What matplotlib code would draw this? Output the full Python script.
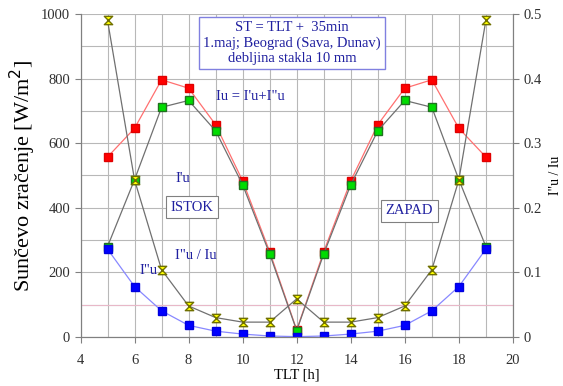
import matplotlib.pyplot as plt
from matplotlib.path import Path
from matplotlib.ticker import MultipleLocator, FuncFormatter

plt.rcParams['font.family'] = ['Liberation Serif', 'DejaVu Serif']

tlt = [5, 6, 7, 8, 9, 10, 11, 12, 13, 14, 15, 16, 17, 18, 19]
iu = [557, 646, 796, 770, 657, 483, 264, 22, 264, 483, 657, 770, 796, 646, 557]
iu1 = [280, 487, 711, 732, 638, 471, 257, 20, 257, 471, 638, 732, 711, 487, 280]
iu2 = [272, 156, 81, 36, 18, 9, 3, 1, 3, 9, 18, 36, 81, 156, 272]
ratio = [0.49, 0.243, 0.104, 0.048, 0.030, 0.023, 0.023, 0.059, 0.023, 0.023,
         0.030, 0.048, 0.104, 0.243, 0.49]

# hourglass marker
hg = Path([(-1, 1), (1, 1), (-1, -1), (1, -1), (-1, 1)],
          [Path.MOVETO, Path.LINETO, Path.LINETO, Path.LINETO, Path.CLOSEPOLY])

fig = plt.figure(figsize=(5.63, 3.86), dpi=100)
ax1 = fig.add_axes([0.143, 0.127, 0.768, 0.837])
ax2 = ax1.twinx()

gray = '#808080'
navy = '#2020a0'

ax1.set_xlim(4, 20)
ax1.set_ylim(0, 1000)
ax2.set_ylim(0, 0.5)

ax1.xaxis.set_major_locator(MultipleLocator(2))
ax1.xaxis.set_minor_locator(MultipleLocator(1))
ax1.yaxis.set_major_locator(MultipleLocator(200))
ax1.yaxis.set_minor_locator(MultipleLocator(100))
ax2.yaxis.set_major_locator(MultipleLocator(0.1))
ax2.yaxis.set_major_formatter(FuncFormatter(lambda v, p: '0' if abs(v) < 1e-9 else '%.1f' % v))

ax1.grid(True, which='both', color='#b8b8b8', lw=0.8)
ax1.axhline(100, color='#e8b8c8', lw=0.8)
ax1.set_axisbelow(True)

for ax in (ax1, ax2):
    for s in ax.spines.values():
        s.set_color(gray)
    ax.spines['top'].set_visible(False)
    ax.tick_params(colors=gray, labelcolor='#303030', labelsize=10.5, length=4, direction='out')
    ax.tick_params(which='minor', length=0)
ax1.tick_params(axis='x', pad=8)

ax1.plot(tlt, iu, color='#ff7070', lw=0.9, marker='s', ms=6,
         mfc='#ff0000', mec='#e00000', zorder=3)
ax1.plot(tlt, iu1, color='#707070', lw=0.9, marker='s', ms=6,
         mfc='#00dd00', mec='#207020', zorder=4)
ax1.plot(tlt, iu2, color='#8888ff', lw=0.9, marker='s', ms=6,
         mfc='#0000ff', mec='#0000dd', zorder=4)
ax2.plot(tlt, ratio, color='#707070', lw=0.9, marker=hg, ms=6,
         mfc='#ffff00', mec='#707000', zorder=5)

ax1.set_ylabel('Sunčevo zračenje [W/m$^2$]', fontsize=16, labelpad=2)
ax1.set_xlabel('TLT [h]', fontsize=10.5, labelpad=1)
ax2.set_ylabel('I"u / Iu', fontsize=10, labelpad=5)

ax1.text(11.83, 910, 'ST = TLT +  35min\n1.maj; Beograd (Sava, Dunav)\ndebljina stakla 10 mm',
         ha='center', va='center', fontsize=10.5, color=navy, linespacing=1.2,
         bbox=dict(boxstyle='square,pad=0.3', fc='white', ec='#8080e0', lw=1), zorder=6)
ax1.text(9.0, 743, 'Iu = I\'u+I"u', ha='left', va='center', fontsize=10.5, color=navy, zorder=6)
ax1.text(7.8, 492, "I'u", ha='center', va='center', fontsize=10.5, color=navy, zorder=6)
ax1.text(8.13, 402, 'ISTOK', ha='center', va='center', fontsize=10.5, color=navy,
         bbox=dict(boxstyle='square,pad=0.3', fc='white', ec=gray, lw=0.8), zorder=6)
ax1.text(8.28, 251, 'I"u / Iu', ha='center', va='center', fontsize=10.5, color=navy, zorder=6)
ax1.text(6.5, 207, 'I"u', ha='center', va='center', fontsize=10.5, color=navy, zorder=6)
ax1.text(16.17, 390, 'ZAPAD', ha='center', va='center', fontsize=10.5, color=navy,
         bbox=dict(boxstyle='square,pad=0.3', fc='white', ec=gray, lw=0.8), zorder=6)

fig.savefig('out.png', dpi=100)
